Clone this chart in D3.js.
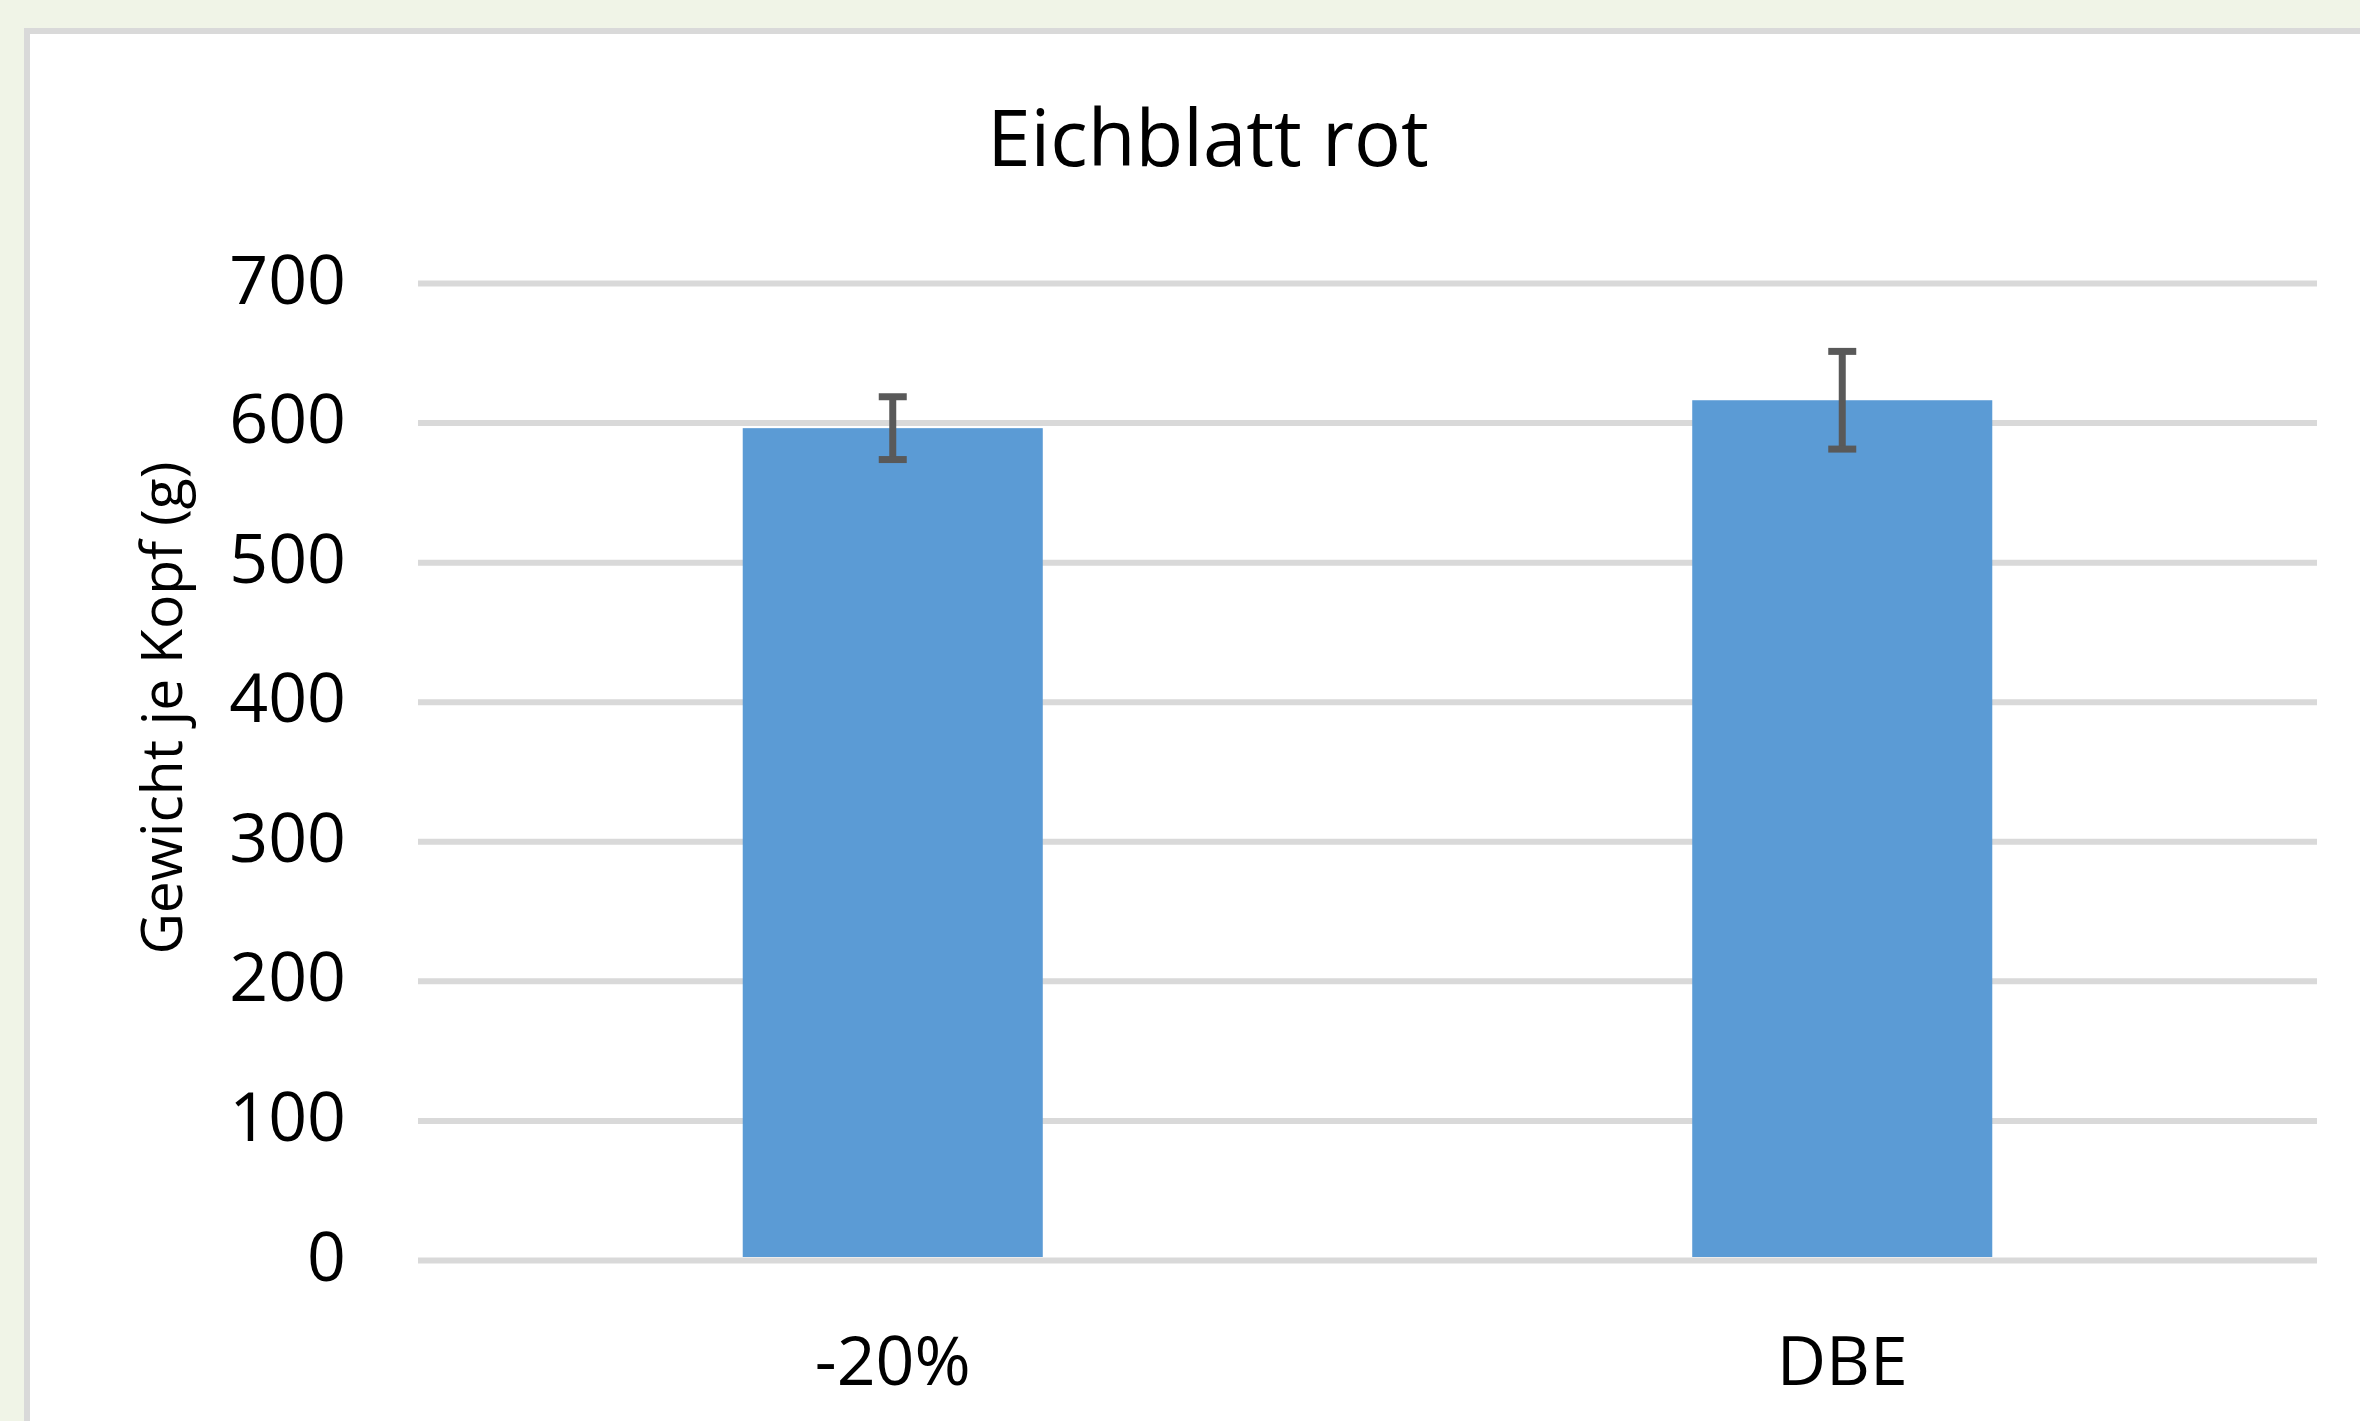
<!DOCTYPE html>
<html>
<head>
<meta charset="utf-8">
<script src="https://cdnjs.cloudflare.com/ajax/libs/d3/7.8.5/d3.min.js"></script>
<style>
	body { margin: 0; background: #f0f4e7; }
	svg { display: block; }
	text { font-family: "Open Sans", "Noto Sans", sans-serif; fill: #000; }
</style>
</head>
<body>
<svg id="chart" width="2360" height="1421"></svg>
<script>
//chart data
var chartTitle = "Eichblatt rot";
var yTitle = "Gewicht je Kopf (g)";
var categories = ["-20%", "DBE"];
var values = [596, 616];
var errors = [22.5, 35];
var yTicks = [0, 100, 200, 300, 400, 500, 600, 700];

var W = 2360, H = 1421;
var margin = {left: 418, right: 43, top: 283, bottom: 161};

var svg = d3.select("#chart");

//white chart area with the grey border on top and left
svg.append("rect")
	.attr("x", 27)
	.attr("y", 31)
	.attr("width", W)
	.attr("height", H)
	.style("fill", "#fff")
	.style("stroke", "#d9d9d9")
	.style("stroke-width", 6);

var x = d3.scaleBand()
	.domain(categories)
	.range([margin.left, W - margin.right])
	.paddingInner(0.684)
	.paddingOuter(0.342);

var y = d3.scaleLinear()
	.domain([0, 700])
	.range([H - margin.bottom, margin.top]);

//gridlines + tick labels
var yAxis = svg.append("g")
	.attr("transform", "translate(" + margin.left + ",0)")
	.call(d3.axisLeft(y)
		.tickValues(yTicks)
		.tickSize(-(W - margin.right - margin.left))
		.tickPadding(72)
		.tickFormat(d3.format("d")));
yAxis.select(".domain").remove();
yAxis.selectAll(".tick line")
	.style("stroke", "#d9d9d9")
	.style("stroke-width", 6);
yAxis.selectAll(".tick text")
	.attr("dy", "0.28em")
	.attr("y", 1)
	.style("font-size", "68px")
	.style("fill", "#000");

//bars
svg.selectAll(".bar")
	.data(values)
	.enter().append("rect")
	.attr("class", "bar")
	.attr("x", function(d, i){ return x(categories[i]); })
	.attr("y", function(d){ return y(d); })
	.attr("width", x.bandwidth())
	.attr("height", function(d){ return y(0) - y(d) - 3; })
	.style("fill", "#5b9bd5");

//error bars
var capW = 28;
var err = svg.selectAll(".err")
	.data(values)
	.enter().append("g")
	.attr("class", "err")
	.style("stroke", "#595959")
	.style("stroke-width", 7);
err.append("line")
	.attr("x1", function(d, i){ return x(categories[i]) + x.bandwidth() / 2; })
	.attr("x2", function(d, i){ return x(categories[i]) + x.bandwidth() / 2; })
	.attr("y1", function(d, i){ return y(d + errors[i]); })
	.attr("y2", function(d, i){ return y(d - errors[i]); });
[1, -1].forEach(function(s){
	err.append("line")
		.attr("x1", function(d, i){ return x(categories[i]) + x.bandwidth() / 2 - capW / 2; })
		.attr("x2", function(d, i){ return x(categories[i]) + x.bandwidth() / 2 + capW / 2; })
		.attr("y1", function(d, i){ return y(d + s * errors[i]); })
		.attr("y2", function(d, i){ return y(d + s * errors[i]); });
});

//category labels
svg.selectAll(".xlab")
	.data(categories)
	.enter().append("text")
	.attr("class", "xlab")
	.attr("x", function(d){ return x(d) + x.bandwidth() / 2; })
	.attr("y", 1385)
	.attr("text-anchor", "middle")
	.style("font-size", "68px")
	.text(function(d){ return d; });

//title
svg.append("text")
	.attr("x", 1208)
	.attr("y", 166)
	.attr("text-anchor", "middle")
	.style("font-size", "78px")
	.text(chartTitle);

//y axis title
svg.append("text")
	.attr("transform", "translate(182,708) rotate(-90)")
	.attr("text-anchor", "middle")
	.style("font-size", "57px")
	.text(yTitle);
</script>
</body>
</html>
